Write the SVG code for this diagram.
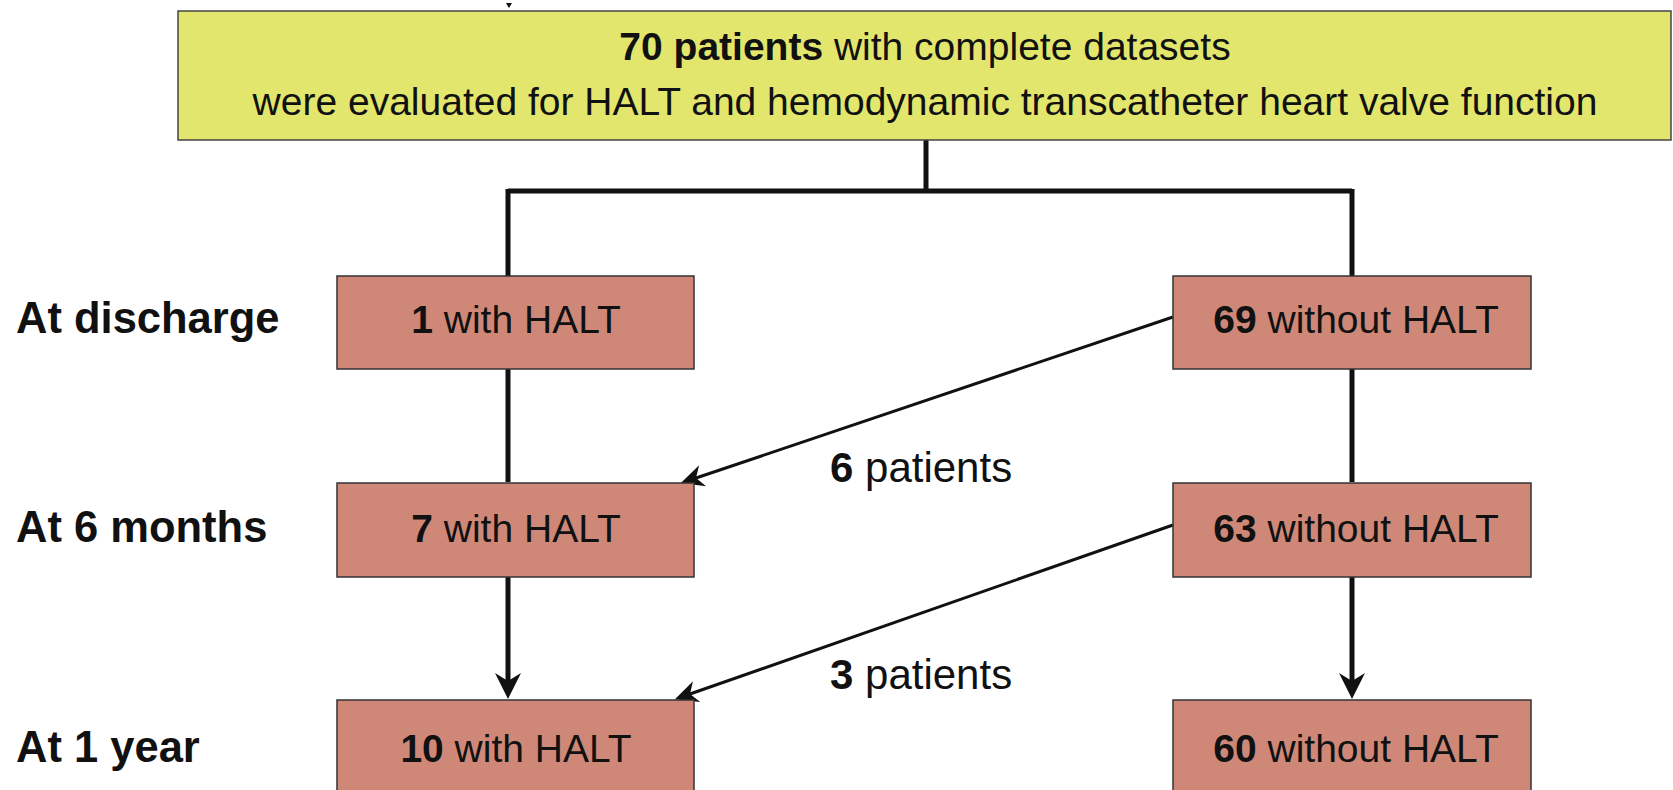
<svg xmlns="http://www.w3.org/2000/svg" width="1673" height="790" viewBox="0 0 1673 790">
<style>
text{font-family:"Liberation Sans",Arial,sans-serif;fill:#111;}
.t{font-size:39px;text-anchor:middle;}
.lbl{font-size:43.5px;font-weight:bold;}
.b{font-weight:bold;}
.box{fill:#cf8878;stroke:#333;stroke-width:1.5;}
.top{fill:#e2e66c;stroke:#444;stroke-width:1.5;}
.ln{fill:none;stroke:#111;stroke-width:5;}
.dg{fill:none;stroke:#111;stroke-width:3;}
.pt{font-size:42px;}
</style>
<defs>
<marker id="ah" markerUnits="userSpaceOnUse" viewBox="-10 -15 30 30" refX="0" refY="0" markerWidth="30" markerHeight="30" orient="auto">
<path d="M18,0 L-8,-13 L0,0 L-8,13 Z" fill="#111"/>
</marker>
<marker id="ah2" markerUnits="userSpaceOnUse" viewBox="-10 -15 30 30" refX="0" refY="0" markerWidth="30" markerHeight="30" orient="auto">
<path d="M16,0 L-7,-11 L0,0 L-7,11 Z" fill="#111"/>
</marker>
</defs>
<rect width="1673" height="790" fill="#fff"/>
<polygon points="506,3 512,3 509,8" fill="#111"/>
<g id="connectors">
<path class="ln" d="M926,140 V191 M508,191 H1352 M508,189 V276 M1352,189 V276"/>
<path class="ln" d="M508,369 V482"/>
<path class="ln" d="M1352,369 V482"/>
<line class="ln" x1="508" y1="577" x2="508" y2="681" marker-end="url(#ah)"/>
<line class="ln" x1="1352" y1="577" x2="1352" y2="681" marker-end="url(#ah)"/>
<line class="dg" x1="1173" y1="317" x2="696" y2="478" marker-end="url(#ah2)"/>
<line class="dg" x1="1173" y1="525" x2="690" y2="694" marker-end="url(#ah2)"/>
</g>
<g id="n-total">
<rect class="top" x="178" y="11" width="1493" height="129"/>
<text class="t" x="925" y="60"><tspan class="b">70 patients</tspan> with complete datasets</text>
<text class="t" x="925" y="115">were evaluated for HALT and hemodynamic transcatheter heart valve function</text>
</g>
<g id="lbl-discharge"><text class="lbl" x="16" y="333">At discharge</text></g>
<g id="lbl-6m"><text class="lbl" x="16" y="542">At 6 months</text></g>
<g id="lbl-1y"><text class="lbl" x="16" y="762">At 1 year</text></g>
<g id="n-1"><rect class="box" x="337" y="276" width="357" height="93"/><text class="t" x="516" y="333"><tspan class="b">1</tspan> with HALT</text></g>
<g id="n-69"><rect class="box" x="1173" y="276" width="358" height="93"/><text class="t" x="1356" y="333"><tspan class="b">69</tspan> without HALT</text></g>
<g id="n-7"><rect class="box" x="337" y="483" width="357" height="94"/><text class="t" x="516" y="542"><tspan class="b">7</tspan> with HALT</text></g>
<g id="n-63"><rect class="box" x="1173" y="483" width="358" height="94"/><text class="t" x="1356" y="542"><tspan class="b">63</tspan> without HALT</text></g>
<g id="n-10"><rect class="box" x="337" y="700" width="357" height="95"/><text class="t" x="516" y="762"><tspan class="b">10</tspan> with HALT</text></g>
<g id="n-60"><rect class="box" x="1173" y="700" width="358" height="95"/><text class="t" x="1356" y="762"><tspan class="b">60</tspan> without HALT</text></g>
<g id="lbl-6p"><text class="pt" x="830" y="482"><tspan class="b">6</tspan> patients</text></g>
<g id="lbl-3p"><text class="pt" x="830" y="689"><tspan class="b">3</tspan> patients</text></g>
</svg>
